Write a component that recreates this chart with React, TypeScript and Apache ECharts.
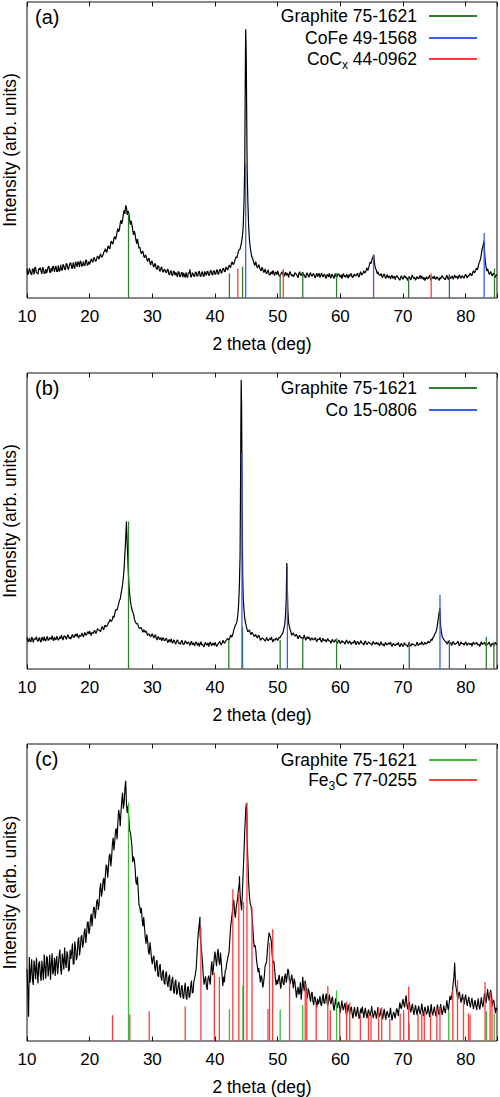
import React, { useEffect, useRef } from "react";
import * as echarts from "echarts";

const FONT = '"Liberation Sans", Arial, Helvetica, sans-serif';

// Sampling grid of the measured patterns: 2-theta from 10 to 85 deg, 0.25 deg steps
const THETA_START = 10;
const THETA_STEP = 0.25;

// ---------- Panel (a) measured intensity (arb. units, 0..100 of the frame) ----------
const A_INTENSITY = [
  9.9, 8.3, 9.2, 7.8, // 10
  9.6, 10.4, 8.6, 8.1,
  9.5, 9.0, 10.4, 8.2,
  9.8, 9.3, 10.8, 8.6,
  9.0, 10.6, 10.1, 8.8,
  11.0, 9.2, 9.6, 11.4, // 15
  9.8, 11.6, 10.1, 10.9,
  11.9, 10.0, 10.6, 12.3,
  10.5, 11.8, 12.6, 10.6,
  12.4, 11.0, 12.7, 11.3,
  11.4, 13.2, 12.0, 13.6, // 20
  12.4, 14.2, 13.1, 14.9,
  13.9, 15.5, 16.7, 15.4,
  17.6, 16.8, 19.2, 18.4,
  20.8, 20.6, 23.4, 23.1,
  26.3, 26.4, 29.6, 31.3, // 25
  28.1, 28.6, 24.8, 24.7,
  21.3, 21.6, 18.4, 18.3,
  17.2, 14.9, 15.8, 13.6,
  14.2, 12.3, 13.4, 11.1,
  12.3, 10.4, 11.5, 9.6, // 30
  10.9, 9.0, 10.5, 8.7,
  9.7, 8.6, 9.8, 7.8,
  9.3, 7.6, 8.9, 8.6,
  7.1, 8.8, 7.3, 8.7,
  8.5, 6.9, 7.4, 8.6, // 35
  9.7, 7.1, 8.2, 7.3,
  8.7, 7.6, 9.1, 7.2,
  8.9, 7.3, 8.3, 9.0,
  7.6, 9.2, 8.0, 9.1,
  8.0, 9.5, 7.9, 9.6, // 40
  8.3, 9.9, 9.0, 10.4,
  9.4, 11.1, 10.3, 12.2,
  11.5, 13.3, 13.6, 15.9,
  16.5, 19.0, 24.0, 45.0,
  78.0, 32.0, 19.5, 15.2, // 45
  13.4, 11.5, 12.3, 10.2,
  11.3, 9.5, 10.4, 8.7,
  9.8, 8.2, 9.5, 7.8,
  8.9, 9.3, 7.6, 8.8,
  9.2, 7.3, 8.0, 8.9, // 50
  7.2, 8.7, 8.4, 7.0,
  8.9, 7.5, 7.2, 8.6,
  8.0, 6.8, 8.9, 7.6,
  8.7, 7.9, 6.9, 8.3,
  7.0, 8.6, 7.4, 8.2, // 55
  6.8, 8.4, 7.9, 6.9,
  8.5, 7.1, 8.0, 6.6,
  7.9, 8.3, 6.7, 7.8,
  6.6, 8.2, 7.3, 8.1,
  7.0, 6.5, 8.3, 7.6, // 60
  8.0, 6.7, 7.2, 8.2,
  6.9, 8.1, 7.6, 8.4,
  7.1, 8.9, 8.0, 9.2,
  8.6, 10.2, 9.9, 12.1,
  12.6, 14.0, 11.0, 9.4, // 65
  8.9, 7.6, 8.3, 6.9,
  8.1, 6.6, 7.9, 7.2,
  6.4, 7.7, 6.9, 6.2,
  7.6, 6.8, 6.0, 7.5,
  6.3, 7.6, 7.1, 5.9, // 70
  7.2, 6.1, 7.8, 6.6,
  6.0, 7.3, 6.5, 7.6,
  7.4, 6.2, 5.9, 7.2,
  6.6, 7.7, 6.0, 7.1,
  7.5, 6.3, 7.0, 5.9, // 75
  6.4, 7.6, 6.8, 6.1,
  7.7, 6.2, 7.3, 6.9,
  6.3, 7.8, 7.0, 6.4,
  7.9, 6.6, 7.5, 6.7,
  8.0, 6.8, 7.4, 8.4, // 80
  7.6, 9.2, 8.8, 10.1,
  10.6, 12.4, 14.8, 17.4,
  16.0, 10.5, 9.9, 8.0,
  9.0, 7.4, 8.4, 6.9,
  7.6, // 85
];
// readings between the grid steps (10.125, 10.375, ...)
const A_INTENSITY_MID = [
  7.9, 10.0, 8.2, 9.9, // 10
  8.0, 10.2, 8.4, 9.9,
  10.3, 8.1, 9.9, 8.4,
  8.4, 10.5, 8.7, 10.2,
  10.7, 8.8, 10.8, 9.1,
  9.0, 11.2, 9.3, 10.9, // 15
  9.5, 11.5, 9.6, 11.8,
  10.1, 12.0, 10.0, 11.5,
  12.3, 10.4, 12.0, 11.2,
  10.9, 12.8, 11.0, 12.4,
  12.3, 12.6, 13.5, 12.6, // 20
  13.3, 13.8, 14.3, 13.8,
  14.5, 15.8, 15.8, 17.2,
  16.6, 18.8, 18.3, 20.3,
  19.8, 22.3, 22.4, 25.2,
  25.0, 28.2, 28.4, 30.5, // 25
  29.4, 26.4, 26.1, 22.9,
  22.6, 19.6, 20.0, 16.8,
  15.9, 15.7, 14.2, 14.6,
  13.1, 13.2, 11.8, 12.5,
  10.9, 11.5, 9.9, 10.8, // 30
  9.4, 10.2, 9.1, 9.6,
  8.7, 9.4, 8.1, 8.9,
  7.6, 9.1, 7.7, 8.0,
  8.9, 7.2, 8.5, 7.0,
  7.6, 8.7, 6.9, 8.3, // 35
  7.1, 8.6, 7.4, 8.8,
  7.3, 8.8, 7.5, 8.6,
  7.4, 9.0, 7.6, 8.9,
  7.8, 9.3, 7.7, 9.2,
  8.1, 9.4, 8.5, 9.7, // 40
  8.8, 10.0, 8.9, 10.2,
  10.1, 10.6, 11.7, 11.3,
  12.3, 13.9, 14.8, 16.4,
  17.8, 21.0, 32.0, 86.0,
  44.0, 24.0, 17.0, 13.9, // 45
  12.4, 11.0, 11.2, 10.6,
  10.2, 9.2, 9.8, 8.9,
  8.5, 9.1, 8.0, 8.4,
  8.0, 8.7, 8.5, 7.8,
  8.3, 7.6, 8.6, 7.8, // 50
  8.2, 7.6, 7.9, 8.5,
  8.0, 7.9, 7.6, 8.2,
  7.4, 8.1, 7.9, 8.3,
  7.6, 7.0, 8.4, 7.5,
  8.0, 7.5, 8.1, 7.3, // 55
  7.7, 7.2, 8.3, 7.6,
  7.6, 7.9, 7.1, 7.8,
  7.1, 7.3, 8.0, 7.2,
  7.8, 7.0, 8.1, 7.5,
  7.9, 7.8, 7.1, 7.0, // 60
  7.4, 7.9, 8.1, 7.1,
  7.6, 7.4, 7.9, 7.3,
  8.3, 7.7, 8.4, 8.5,
  9.4, 9.3, 11.1, 11.6,
  13.5, 13.2, 10.0, 8.2, // 65
  8.0, 7.8, 7.3, 7.9,
  7.2, 7.5, 6.8, 7.4,
  7.3, 6.6, 7.4, 7.0,
  7.2, 6.4, 7.0, 6.7,
  7.0, 6.8, 6.5, 7.1, // 70
  6.5, 7.1, 6.9, 7.0,
  6.6, 6.7, 7.2, 6.5,
  6.9, 7.0, 6.6, 6.4,
  7.2, 6.5, 6.8, 6.6,
  6.5, 7.1, 6.4, 6.9, // 75
  7.1, 6.9, 6.4, 7.0,
  6.8, 7.3, 6.6, 7.5,
  7.0, 6.9, 7.4, 7.2,
  7.0, 7.4, 6.9, 7.6,
  7.3, 7.5, 8.0, 7.6, // 80
  8.6, 8.5, 9.6, 9.5,
  11.8, 13.2, 16.5, 18.8,
  12.5, 9.1, 9.0, 8.3,
  8.0, 8.2, 7.4, 7.9,
];
// extra readings on the sharp reflections
const A_PEAK_THETA = [44.82, 44.9, 44.97, 45.1, 65.35, 82.9, 82.98];
const A_PEAK_I = [70, 90.8, 84, 50, 14.6, 19.3, 18.6];

// reference patterns (a)
const A_GRAPHITE_POS = [26.2, 42.3, 44.4, 50.4, 54.0, 59.4, 70.9, 77.4, 84.6];
const A_GRAPHITE_H = [28.7, 8.3, 10.6, 7.8, 8.4, 8.4, 7.0, 8.1, 10.0];
const A_COFE_POS = [44.9, 65.3, 82.95];
const A_COFE_H = [45.6, 14.5, 22.0];
const A_COCX_POS = [43.65, 50.9, 74.5];
const A_COCX_H = [10.0, 9.8, 8.4];

// ---------- Panel (b) ----------
const B_INTENSITY = [
  10.7, 9.2, 9.6, 10.8, // 10
  9.0, 10.3, 10.9, 9.3,
  10.6, 9.1, 10.2, 10.9,
  9.4, 11.0, 9.8, 10.4,
  11.3, 9.5, 10.0, 11.1,
  9.7, 10.9, 11.4, 9.8, // 15
  11.2, 10.0, 11.6, 10.3,
  10.1, 11.7, 10.6, 11.8,
  11.9, 10.4, 11.2, 12.2,
  10.8, 12.4, 11.5, 12.6,
  12.8, 11.3, 12.2, 13.1, // 20
  12.0, 13.6, 13.1, 12.6,
  14.4, 13.2, 14.8, 14.5,
  15.6, 16.7, 16.1, 17.9,
  18.6, 20.1, 20.9, 23.2,
  25.4, 28.5, 34.0, 44.0, // 25
  42.0, 29.0, 23.0, 20.0,
  18.6, 16.1, 15.2, 14.6,
  13.7, 13.9, 12.4, 12.8,
  12.9, 11.3, 11.8, 10.9,
  11.9, 10.5, 11.6, 9.8, // 30
  10.9, 10.1, 9.5, 10.6,
  9.5, 10.4, 8.9, 9.9,
  10.2, 8.7, 9.6, 8.4,
  9.9, 8.6, 8.3, 9.7,
  8.2, 9.6, 8.5, 9.2, // 35
  7.9, 9.4, 8.8, 7.8,
  9.1, 8.0, 7.6, 9.2,
  8.4, 7.5, 9.0, 8.1,
  7.6, 9.1, 7.9, 8.6,
  9.0, 7.6, 8.5, 9.3, // 40
  8.1, 9.7, 8.7, 9.6,
  10.3, 9.9, 11.5, 11.1,
  13.2, 14.8, 16.0, 21.0,
  38.0, 88.0, 24.0, 17.0,
  14.4, 12.6, 13.2, 11.6, // 45
  12.1, 11.0, 11.7, 10.5,
  11.4, 9.7, 10.5, 10.1,
  9.4, 10.7, 9.6, 10.3,
  10.8, 9.1, 9.7, 10.5,
  9.6, 10.7, 11.2, 11.8, // 50
  13.8, 18.0, 34.0, 15.5,
  13.2, 11.4, 12.2, 11.1,
  11.7, 10.2, 11.4, 10.5,
  10.1, 11.5, 9.7, 10.9,
  10.8, 9.6, 10.5, 9.8, // 55
  10.6, 9.2, 10.1, 10.7,
  9.0, 10.4, 9.6, 9.1,
  10.3, 9.5, 8.7, 10.0,
  9.1, 9.9, 8.6, 9.8,
  8.5, 9.6, 9.2, 8.4, // 60
  9.8, 8.6, 9.5, 8.3,
  9.0, 9.7, 8.2, 9.4,
  8.3, 9.6, 8.8, 8.1,
  9.5, 8.2, 9.1, 8.7,
  8.0, 9.3, 8.5, 9.0, // 65
  8.9, 7.8, 9.2, 8.1,
  7.7, 9.0, 8.3, 8.8,
  9.1, 7.6, 8.6, 7.9,
  8.4, 9.0, 7.5, 8.7,
  7.6, 8.9, 8.1, 7.4, // 70
  9.0, 7.7, 8.6, 8.2,
  7.8, 9.1, 8.0, 8.7,
  9.2, 8.1, 9.0, 8.6,
  9.4, 8.9, 10.1, 10.5,
  11.5, 12.5, 15.0, 18.8, // 75
  14.5, 11.0, 10.0, 9.3,
  8.4, 9.5, 8.9, 7.9,
  9.3, 8.2, 8.6, 9.4,
  7.8, 9.1, 8.5, 8.0,
  9.2, 7.9, 8.8, 8.3, // 80
  7.7, 9.1, 8.4, 9.0,
  8.1, 7.6, 9.2, 8.5,
  9.0, 7.8, 8.3, 9.1,
  7.6, 8.7, 8.0, 9.0,
  8.2, // 85
];
const B_INTENSITY_MID = [
  9.4, 10.5, 9.1, 10.3, // 10
  9.9, 10.0, 9.7, 10.2,
  9.4, 10.8, 9.5, 9.8,
  10.5, 9.7, 10.6, 10.0,
  10.1, 10.8, 9.9, 10.4,
  10.2, 10.3, 10.5, 10.9, // 15
  10.9, 10.6, 11.1, 10.7,
  11.1, 10.8, 11.3, 11.0,
  11.0, 11.4, 11.1, 11.6,
  11.7, 11.5, 12.2, 11.8,
  12.0, 12.4, 12.0, 12.7, // 20
  12.7, 13.3, 12.9, 13.8,
  13.7, 14.5, 14.2, 15.0,
  16.0, 16.2, 16.9, 17.4,
  19.8, 19.9, 22.0, 23.6,
  26.8, 31.0, 39.0, 48.5, // 25
  35.0, 25.5, 21.3, 19.2,
  17.0, 15.6, 15.4, 13.9,
  14.0, 13.1, 13.3, 12.3,
  12.1, 11.9, 11.2, 11.6,
  11.0, 11.2, 10.4, 10.8, // 30
  10.0, 10.6, 10.3, 9.7,
  10.1, 9.4, 9.8, 9.1,
  9.1, 9.8, 8.9, 9.4,
  9.2, 8.8, 9.4, 8.5,
  8.6, 9.2, 8.7, 8.6, // 35
  8.8, 8.2, 8.4, 9.0,
  8.3, 8.9, 8.5, 8.2,
  7.9, 8.5, 8.2, 8.8,
  8.5, 8.3, 8.7, 7.9,
  8.4, 8.1, 8.8, 8.6, // 40
  8.7, 9.2, 9.0, 9.9,
  10.0, 10.6, 10.8, 12.0,
  14.0, 15.2, 18.0, 27.0,
  82.0, 44.0, 20.0, 15.6,
  13.3, 12.9, 12.2, 12.4, // 45
  11.5, 11.2, 11.0, 11.1,
  10.6, 10.0, 10.4, 9.8,
  10.0, 9.8, 10.0, 9.9,
  9.8, 10.1, 9.9, 10.1,
  10.3, 10.5, 11.5, 12.6, // 50
  15.0, 24.0, 20.0, 14.2,
  12.4, 11.9, 11.5, 11.4,
  11.0, 10.9, 10.8, 10.6,
  10.6, 10.4, 10.5, 10.2,
  10.1, 10.3, 10.0, 10.2, // 55
  9.8, 10.1, 9.9, 9.7,
  9.8, 9.6, 9.9, 9.7,
  9.6, 9.4, 9.5, 9.3,
  9.5, 9.3, 9.2, 9.3,
  9.0, 9.1, 8.9, 9.2, // 60
  9.1, 9.0, 8.9, 9.0,
  8.7, 9.1, 8.8, 8.9,
  8.8, 8.9, 8.6, 9.0,
  8.7, 8.7, 8.9, 8.6,
  8.6, 8.7, 8.5, 8.4, // 65
  8.4, 8.6, 8.3, 8.5,
  8.6, 8.2, 8.5, 8.3,
  8.2, 8.4, 8.1, 8.3,
  8.3, 8.1, 8.2, 8.0,
  8.2, 8.3, 8.0, 8.4, // 70
  8.1, 8.3, 8.2, 8.0,
  8.4, 8.2, 8.5, 8.3,
  8.6, 8.5, 8.4, 8.8,
  9.0, 9.4, 9.6, 10.7,
  12.0, 13.4, 17.0, 20.2, // 75
  12.4, 10.5, 9.6, 9.1,
  8.9, 8.6, 8.8, 8.7,
  8.8, 8.5, 8.9, 8.6,
  8.4, 8.7, 8.6, 8.5,
  8.5, 8.6, 8.3, 8.7, // 80
  8.6, 8.4, 8.6, 8.3,
  8.4, 8.5, 8.3, 8.6,
  8.5, 8.3, 8.6, 8.4,
  8.2, 8.4, 8.3, 8.5,
];
const B_PEAK_THETA = [25.87, 44.1, 44.18, 44.33, 44.42, 51.45, 51.6, 75.88];
const B_PEAK_I = [49.8, 70, 97.6, 55, 32, 35.8, 22, 20.6];

const B_GRAPHITE_POS = [26.2, 42.2, 44.4, 50.4, 54.0, 59.4, 71.0, 77.4, 83.3, 84.5];
const B_GRAPHITE_H = [49.8, 9.8, 14.3, 9.8, 10.4, 10.4, 9.2, 9.8, 10.8, 9.2];
const B_CO_POS = [44.3, 51.55, 75.9];
const B_CO_H = [73.0, 35.0, 25.0];

// ---------- Panel (c) ----------
const C_INTENSITY = [
  24.2, 8.2, 19.6, 27.5, // 10
  18.9, 24.6, 28.0, 19.4,
  26.8, 20.2, 23.7, 29.1,
  21.0, 27.9, 24.4, 20.6,
  29.5, 23.8, 21.9, 28.6,
  25.2, 30.8, 22.3, 27.4, // 15
  31.5, 24.6, 28.9, 23.9,
  27.6, 32.8, 26.0, 31.2,
  28.4, 34.9, 31.0, 35.6,
  33.1, 37.9, 35.6, 40.2,
  37.4, 42.8, 41.9, 45.0, // 20
  43.6, 47.7, 46.0, 53.1,
  50.2, 54.9, 55.6, 58.8,
  58.6, 63.0, 61.7, 68.4,
  67.2, 71.6, 73.4, 76.1,
  77.3, 83.6, 80.1, 87.6, // 25
  76.8, 74.9, 70.3, 65.4,
  62.1, 58.3, 52.7, 50.6,
  45.2, 44.8, 38.6, 38.3,
  32.8, 33.6, 29.1, 30.7,
  25.9, 28.7, 23.4, 27.2, // 30
  21.6, 25.9, 20.3, 23.9,
  19.0, 23.4, 18.2, 22.3,
  17.1, 21.6, 15.9, 20.7,
  16.3, 19.9, 14.6, 18.8,
  14.2, 19.6, 13.9, 18.4, // 35
  15.1, 20.3, 16.4, 21.2,
  24.5, 34.0, 39.5, 33.0,
  26.5, 19.0, 21.8, 17.2,
  22.0, 19.0, 26.8, 24.3,
  30.1, 25.2, 31.0, 25.6, // 40
  26.7, 18.5, 19.8, 24.0,
  27.5, 30.0, 38.5, 43.0,
  47.5, 41.5, 46.5, 51.0,
  49.5, 44.0, 57.0, 71.0,
  80.0, 60.5, 48.5, 45.5, // 45
  39.5, 31.6, 30.8, 25.4,
  24.6, 19.7, 20.9, 19.5,
  25.4, 27.0, 33.8, 35.6,
  33.4, 26.2, 24.6, 18.8,
  19.1, 22.3, 17.6, 21.8, // 50
  18.9, 22.7, 21.4, 23.6,
  19.3, 22.4, 17.8, 19.9,
  14.6, 18.2, 16.4, 13.9,
  21.6, 16.8, 19.0, 14.4,
  16.8, 13.2, 16.5, 12.1, // 55
  14.6, 11.3, 12.4, 15.1,
  11.8, 15.9, 12.6, 16.0,
  11.7, 15.6, 12.4, 14.9,
  10.2, 14.4, 11.1, 13.2,
  9.5, 13.6, 10.4, 12.8, // 60
  8.4, 12.3, 9.1, 11.6,
  7.6, 11.4, 8.2, 11.5,
  7.4, 10.9, 11.6, 7.8,
  11.2, 7.6, 10.6, 8.4,
  11.8, 7.7, 10.3, 7.5, // 65
  11.4, 8.2, 11.0, 7.3,
  10.8, 7.2, 10.1, 7.8,
  11.2, 6.9, 9.8, 7.6,
  11.0, 8.4, 12.9, 10.9,
  14.1, 11.3, 15.4, 10.6, // 70
  13.2, 9.6, 12.5, 8.8,
  12.1, 8.7, 11.8, 9.0,
  12.6, 8.4, 11.5, 8.9,
  11.9, 8.1, 12.4, 8.6,
  11.6, 8.3, 12.3, 8.7, // 75
  12.4, 8.8, 11.9, 9.4,
  13.7, 10.4, 15.2, 14.6,
  19.3, 26.3, 17.6, 14.1,
  16.6, 12.9, 15.8, 12.2,
  15.6, 11.8, 14.9, 11.3, // 80
  14.5, 10.8, 13.8, 10.5,
  14.3, 10.6, 14.7, 11.4,
  16.1, 12.8, 17.5, 13.6,
  17.2, 11.6, 13.6, 9.4,
  10.4, // 85
];
const C_INTENSITY_MID = [
  17.0, 28.3, 23.1, 20.4, // 10
  27.1, 20.8, 23.5, 26.0,
  22.1, 27.0, 20.5, 24.8,
  28.5, 21.7, 29.0, 25.6,
  22.4, 28.0, 26.9, 22.5,
  28.8, 24.1, 29.4, 24.0, // 15
  26.4, 30.2, 23.5, 30.7,
  29.9, 25.8, 33.5, 27.2,
  33.6, 28.8, 35.1, 31.4,
  36.7, 33.0, 39.8, 36.1,
  41.1, 38.6, 44.9, 41.2, // 20
  46.9, 44.1, 51.0, 48.6,
  53.7, 50.6, 59.3, 55.0,
  62.4, 58.8, 66.3, 64.2,
  70.8, 67.9, 77.8, 72.3,
  80.9, 78.2, 85.0, 79.6, // 25
  79.2, 70.8, 68.0, 60.2,
  61.0, 53.6, 55.4, 45.8,
  43.0, 40.9, 41.7, 34.9,
  35.9, 30.2, 33.2, 27.5,
  28.1, 24.9, 26.6, 22.1, // 30
  25.1, 21.5, 23.2, 19.6,
  22.5, 19.3, 21.4, 17.0,
  20.6, 17.2, 19.6, 15.6,
  18.5, 15.7, 18.1, 14.8,
  17.6, 15.3, 18.0, 14.6, // 35
  18.6, 16.1, 20.0, 22.5,
  29.0, 37.3, 35.5, 30.0,
  22.3, 20.5, 18.6, 20.9,
  20.4, 24.5, 22.2, 28.0,
  27.4, 29.3, 27.0, 29.8, // 40
  22.2, 21.6, 23.6, 26.2,
  28.8, 34.5, 41.0, 46.0,
  43.5, 44.8, 48.4, 53.0,
  46.2, 50.5, 63.5, 76.0,
  68.0, 53.0, 46.2, 42.8, // 45
  34.9, 32.3, 27.3, 23.2,
  21.8, 22.1, 18.0, 22.0,
  26.0, 31.1, 36.5, 34.8,
  28.9, 27.0, 21.2, 20.6,
  21.0, 19.5, 20.9, 19.4, // 50
  21.8, 19.6, 24.3, 20.2,
  20.8, 20.0, 21.0, 17.2,
  16.9, 15.6, 19.8, 17.3,
  18.4, 20.3, 16.1, 17.7,
  14.8, 15.9, 13.4, 15.0, // 55
  12.8, 14.3, 13.3, 12.6,
  14.2, 13.0, 14.6, 13.2,
  13.8, 13.6, 14.0, 12.1,
  12.3, 11.9, 12.6, 11.0,
  11.8, 11.2, 12.0, 10.3, // 60
  10.6, 10.4, 10.6, 9.4,
  9.6, 9.5, 9.8, 9.2,
  9.0, 9.4, 9.6, 9.7,
  9.1, 9.3, 9.2, 9.6,
  9.5, 9.0, 9.3, 9.2, // 65
  9.6, 9.1, 9.4, 9.0,
  8.9, 9.2, 8.7, 9.1,
  8.8, 8.6, 9.0, 9.4,
  10.2, 10.8, 11.4, 12.6,
  12.4, 13.6, 12.3, 12.5, // 70
  11.0, 11.2, 10.3, 10.6,
  10.2, 10.6, 10.0, 10.5,
  10.3, 10.1, 10.4, 9.8,
  10.0, 10.2, 9.7, 10.1,
  9.8, 10.3, 9.9, 10.2, // 75
  10.5, 10.0, 10.6, 11.2,
  11.6, 12.9, 13.8, 16.4,
  21.5, 19.2, 15.8, 16.0,
  14.5, 14.2, 13.7, 14.4,
  13.4, 13.6, 12.8, 13.1, // 80
  12.4, 12.6, 12.0, 12.3,
  12.0, 12.5, 12.6, 13.3,
  14.2, 14.9, 15.0, 16.0,
  14.6, 13.8, 11.4, 11.2,
];
const C_PEAK_THETA = [37.6, 43.9, 44.9, 45.1];
const C_PEAK_I = [41.8, 55.5, 78, 76];

const C_GRAPHITE_POS = [26.2, 42.3, 44.45, 50.4, 54.0, 59.4, 71.0, 77.3, 83.3, 84.55];
const C_GRAPHITE_H = [80.3, 10.7, 18.5, 10.5, 12.0, 17.0, 6.0, 10.4, 10.0, 9.3];
const C_FE3C_POS = [
  23.65, 26.4, 29.5, 35.25, 37.75, 39.9, 40.7, 42.85, 43.8, 44.55, 45.1, 45.9,
  48.45, 48.7, 49.2, 51.9, 54.4, 54.65, 56.15, 58.0, 58.4, 59.9, 61.0, 61.5,
  63.2, 64.5, 64.9, 66.1, 66.6, 67.9, 69.55, 70.1, 70.9, 72.4, 73.0, 73.4,
  74.4, 75.4, 75.9, 77.95, 78.7, 79.65, 80.45, 80.7, 83.1, 83.9, 84.2,
];
const C_FE3C_H = [
  8.7, 9.0, 10.0, 11.6, 38.5, 23.0, 21.6, 51.0, 50.0, 46.8, 80.3, 45.0,
  10.8, 33.0, 37.6, 20.5, 19.4, 17.2, 12.1, 18.5, 10.4, 11.0, 13.2, 12.9,
  8.8, 8.8, 8.8, 11.0, 11.4, 7.4, 9.3, 10.4, 18.3, 8.8, 9.3, 9.8,
  8.8, 11.0, 11.4, 17.2, 20.5, 13.8, 9.3, 8.8, 19.9, 16.5, 15.0,
];

const X_MIN = 10;
const X_MAX = 85;
const X_INTERVAL = 10;

function buildCurve(grid: number[], extraTheta: number[], extraI: number[], mid: number[] = []) {
  const pts: number[][] = grid.map((v, i) => [THETA_START + i * THETA_STEP, v]);
  mid.forEach((v, i) => pts.push([THETA_START + THETA_STEP / 2 + i * THETA_STEP, v]));
  extraTheta.forEach((t, k) => pts.push([t, extraI[k]]));
  pts.sort((p, q) => p[0] - q[0]);
  return pts;
}

function pairs(pos: number[], h: number[]) {
  return pos.map((p, i) => [p, h[i]]);
}

const GREEN_DARK = "#2f7f2f";
const GREEN = "#38bf38";
const BLUE = "#3a5cff";
const RED = "#ff3c3c";

export default function App() {
  const ref = useRef<HTMLDivElement>(null);

  useEffect(() => {
    if (!ref.current) return;
    const chart = echarts.init(ref.current, undefined, { renderer: "svg" });

    const panels = [
      {
        top: 2,
        height: 296,
        label: "(a)",
        lineWidth: 1.2,
        curve: buildCurve(A_INTENSITY, A_PEAK_THETA, A_PEAK_I, A_INTENSITY_MID),
        sticks: [
          { name: "a-graphite", color: GREEN_DARK, data: pairs(A_GRAPHITE_POS, A_GRAPHITE_H), text: "{e|Graphite 75-1621}", legendTop: 7 },
          { name: "a-cofe", color: BLUE, data: pairs(A_COFE_POS, A_COFE_H), text: "{e|CoFe 49-1568}", legendTop: 29 },
          { name: "a-cocx", color: RED, data: pairs(A_COCX_POS, A_COCX_H), text: "{t|CoC}{s|x}{e| 44-0962}", legendTop: 50 },
        ],
      },
      {
        top: 373,
        height: 296,
        label: "(b)",
        lineWidth: 1.2,
        curve: buildCurve(B_INTENSITY, B_PEAK_THETA, B_PEAK_I, B_INTENSITY_MID),
        sticks: [
          { name: "b-graphite", color: GREEN_DARK, data: pairs(B_GRAPHITE_POS, B_GRAPHITE_H), text: "{e|Graphite 75-1621}", legendTop: 379 },
          { name: "b-co", color: BLUE, data: pairs(B_CO_POS, B_CO_H), text: "{e|Co 15-0806}", legendTop: 401 },
        ],
      },
      {
        top: 744,
        height: 297,
        label: "(c)",
        lineWidth: 1.15,
        curve: buildCurve(C_INTENSITY, C_PEAK_THETA, C_PEAK_I, C_INTENSITY_MID),
        sticks: [
          { name: "c-graphite", color: GREEN, data: pairs(C_GRAPHITE_POS, C_GRAPHITE_H), text: "{e|Graphite 75-1621}", legendTop: 751 },
          { name: "c-fe3c", color: RED, data: pairs(C_FE3C_POS, C_FE3C_H), text: "{t|Fe}{s|3}{e|C 77-0255}", legendTop: 771 },
        ],
      },
    ];

    const rich = {
      t: { fontFamily: FONT, fontSize: 17.5, color: "#000" },
      e: { fontFamily: FONT, fontSize: 17.5, color: "#000", padding: [0, 7, 0, 0] },
      s: { fontFamily: FONT, fontSize: 12, color: "#000", padding: [12, 0, 0, 0] },
    };

    const grid: any[] = [];
    const xAxis: any[] = [];
    const yAxis: any[] = [];
    const series: any[] = [];
    const legend: any[] = [];
    const title: any[] = [];

    panels.forEach((p, i) => {
      grid.push({
        left: 27,
        width: 470,
        top: p.top,
        height: p.height,
        containLabel: false,
        outerBoundsMode: "none",
        show: true,
        borderColor: "#111",
        borderWidth: 1,
        backgroundColor: "transparent",
      });
      xAxis.push({
        type: "value",
        gridIndex: i,
        position: "bottom",
        min: X_MIN,
        max: X_MAX,
        interval: X_INTERVAL,
        name: "2 theta (deg)",
        nameLocation: "middle",
        nameGap: 37,
        nameTextStyle: { fontFamily: FONT, fontSize: 17.5, color: "#000" },
        axisLine: { show: false },
        axisTick: { show: true, inside: true, length: 4.5, lineStyle: { color: "#111", width: 1 } },
        axisLabel: {
          margin: 10,
          fontFamily: FONT,
          fontSize: 17,
          color: "#000",
          formatter: (v: number) => (v > 84 ? "" : String(v)),
        },
        splitLine: { show: false },
      });
      xAxis.push({
        type: "value",
        gridIndex: i,
        position: "top",
        min: X_MIN,
        max: X_MAX,
        interval: X_INTERVAL,
        axisLine: { show: false },
        axisTick: { show: true, inside: true, length: 4.5, lineStyle: { color: "#111", width: 1 } },
        axisLabel: { show: false },
        splitLine: { show: false },
      });
      yAxis.push({
        type: "value",
        gridIndex: i,
        min: 0,
        max: 100,
        name: "Intensity (arb. units)",
        nameLocation: "middle",
        nameGap: 8,
        nameTextStyle: { fontFamily: FONT, fontSize: 17.5, color: "#000" },
        axisLine: { show: false },
        axisTick: { show: false },
        axisLabel: { show: false },
        splitLine: { show: false },
      });
      series.push({
        type: "line",
        name: "pattern-" + i,
        xAxisIndex: i * 2,
        yAxisIndex: i,
        data: p.curve,
        showSymbol: false,
        symbol: "none",
        silent: true,
        z: 2,
        lineStyle: { color: "#000", width: p.lineWidth },
      });
      p.sticks.forEach((s) => {
        series.push({
          type: "custom",
          name: s.name,
          xAxisIndex: i * 2,
          yAxisIndex: i,
          data: s.data,
          silent: true,
          z: 3,
          clip: true,
          itemStyle: { color: s.color },
          encode: { x: 0, y: 1 },
          renderItem: (_params: any, api: any) => {
            const x = api.value(0);
            const h = api.value(1);
            const p0 = api.coord([x, 0]);
            const p1 = api.coord([x, h]);
            return {
              type: "line",
              shape: { x1: p0[0], y1: p0[1], x2: p1[0], y2: p1[1] },
              style: { stroke: s.color, lineWidth: 1.3 },
            };
          },
        });
        legend.push({
          data: [s.name],
          right: 23,
          top: s.legendTop,
          padding: 0,
          orient: "horizontal",
          align: "right",
          icon: "rect",
          itemWidth: 48,
          itemHeight: 2,
          selectedMode: false,
          formatter: () => s.text,
          textStyle: { fontFamily: FONT, fontSize: 17.5, color: "#000", rich },
        });
      });
      title.push({
        text: p.label,
        left: 35,
        top: p.top + 4,
        padding: 0,
        textStyle: { fontFamily: FONT, fontSize: 20, fontWeight: "normal", color: "#000", lineHeight: 22 },
      });
    });

    chart.setOption({
      animation: false,
      backgroundColor: "#fff",
      title,
      grid,
      xAxis,
      yAxis,
      legend,
      series,
    });

    return () => chart.dispose();
  }, []);

  return <div ref={ref} style={{ position: "fixed", left: 0, top: 0, width: 500, height: 1097 }} />;
}
